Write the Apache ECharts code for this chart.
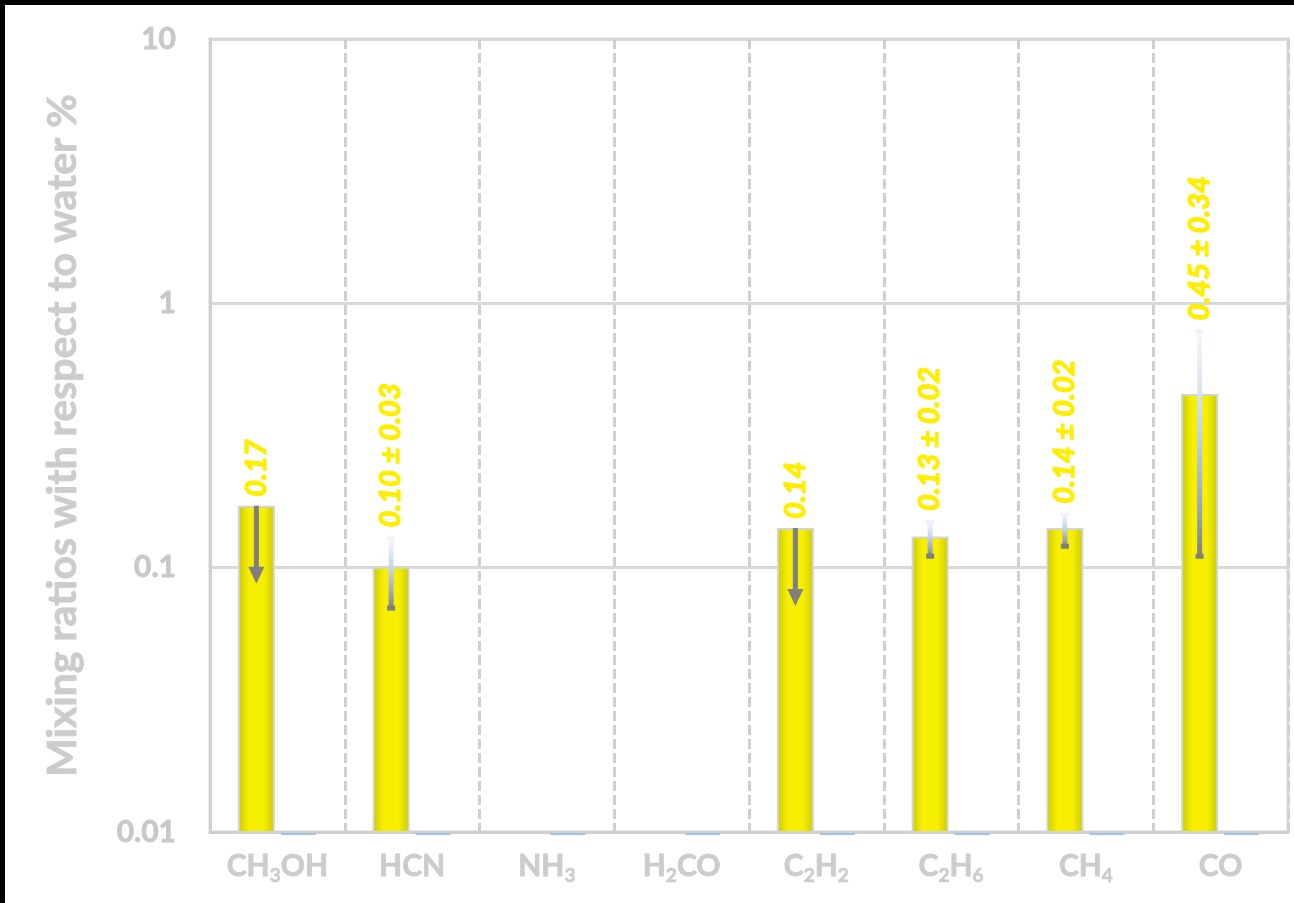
<!DOCTYPE html>
<html>
<head>
<meta charset="utf-8">
<title>Mixing ratios with respect to water</title>
<script src="https://cdn.jsdelivr.net/npm/echarts@6/dist/echarts.min.js"></script>
<style>
  html, body { margin: 0; padding: 0; background: #ffffff; }
  #chart { width: 1294px; height: 903px; }
</style>
</head>
<body>
<div id="chart"></div>
<script>
// Molecules on the category axis and their rich-text labels (subscripted counts)
const categories = ['CH3OH', 'HCN', 'NH3', 'H2CO', 'C2H2', 'C2H6', 'CH4', 'CO'];
const categoryLabels = [
  '{n|CH}{s|3}{n|OH}', '{n|HCN}', '{n|NH}{s|3}', '{n|H}{s|2}{n|CO}',
  '{n|C}{s|2}{n|H}{s|2}', '{n|C}{s|2}{n|H}{s|6}', '{n|CH}{s|4}', '{n|CO}'
];

// Abundances (% of water), 1-sigma uncertainties and upper-limit flags
const mixingRatios = [0.17, 0.10, null, null, 0.14, 0.13, 0.14, 0.45];
const uncertainties = [null, 0.03, null, null, null, 0.02, 0.02, 0.34];
const upperLimits = [true, false, false, false, true, false, false, false];

// Second (comparison) series: sits at the axis floor
const comparisonRatios = [0.01, 0.01, 0.01, 0.01, 0.01, 0.01, 0.01, 0.01];

// Log axis ticks
const yTickValues = [0.01, 0.1, 1, 10];
const yTickLabels = ['0.01', '0.1', '1', '10'];
const Y_MIN = yTickValues[0];
const Y_MAX = yTickValues[yTickValues.length - 1];

const FONT = 'Lato, "Open Sans", "DejaVu Sans", sans-serif';
const BAR_WIDTH = 35;
const BAR_GAP = 7;
// centre of each bar relative to the category centre
const BAR_OFFSET = (BAR_WIDTH + BAR_GAP) / 2;

const chart = echarts.init(document.getElementById('chart'), null, { renderer: 'canvas' });

const yellowFill = new echarts.graphic.LinearGradient(0, 0, 1, 0, [
  { offset: 0, color: '#caca00' },
  { offset: 0.3, color: '#f7ef00' },
  { offset: 0.7, color: '#f7ef00' },
  { offset: 1, color: '#caca00' }
]);
const errorFill = new echarts.graphic.LinearGradient(0, 0, 0, 1, [
  { offset: 0, color: '#f7f9fc' },
  { offset: 0.45, color: '#c4d4ea' },
  { offset: 0.8, color: '#9ba4b1' },
  { offset: 1, color: '#7f7f7f' }
]);

// Bars are drawn from the log-axis floor up to each value
function renderBars(params, api) {
  const i = api.value(0);
  const v = api.value(1);
  const top = api.coord([i, v]);
  const base = api.coord([i, Y_MIN]);
  const cx = top[0] - BAR_OFFSET;
  return {
    type: 'rect',
    shape: { x: cx - BAR_WIDTH / 2, y: top[1], width: BAR_WIDTH, height: base[1] - top[1] },
    style: { fill: yellowFill, stroke: '#d4d4d4', lineWidth: 2 }
  };
}

function renderComparison(params, api) {
  const i = api.value(0);
  const v = api.value(1);
  const p = api.coord([i, v]);
  const cx = p[0] + BAR_OFFSET;
  return {
    type: 'line',
    shape: { x1: cx - BAR_WIDTH / 2, y1: p[1] + 2, x2: cx + BAR_WIDTH / 2, y2: p[1] + 2 },
    style: { stroke: '#9dc3e6', lineWidth: 2 }
  };
}

// Error bars, upper-limit arrows and value labels
function renderOverlay(params, api) {
  const i = api.value(0);
  const v = api.value(1);
  const e = api.value(2);
  const up = api.value(3);
  const p = api.coord([i, v]);
  const x = p[0] - BAR_OFFSET;
  const children = [];
  let topY = p[1];

  if (e > 0) {
    const yHi = api.coord([i, v + e])[1];
    const yLo = api.coord([i, v - e])[1];
    children.push({
      type: 'rect',
      shape: { x: x - 2.5, y: yHi, width: 5, height: yLo - yHi },
      style: { fill: errorFill }
    });
    children.push({
      type: 'rect',
      shape: { x: x - 4, y: yHi - 1, width: 8, height: 4 },
      style: { fill: '#eef2f8' }
    });
    children.push({
      type: 'rect',
      shape: { x: x - 4, y: yLo - 3, width: 8, height: 5 },
      style: { fill: '#7f7f7f' }
    });
    topY = yHi;
  }

  if (up) {
    children.push({
      type: 'rect',
      shape: { x: x - 2.5, y: p[1] - 1, width: 5, height: 63 },
      style: { fill: '#7f7f7f' }
    });
    children.push({
      type: 'polygon',
      shape: { points: [[x - 8, p[1] + 60], [x + 8, p[1] + 60], [x, p[1] + 77]] },
      style: { fill: '#7f7f7f' }
    });
  }

  const text = v.toFixed(2) + (e > 0 ? ' \u00b1 ' + e.toFixed(2) : '');
  children.push({
    type: 'text',
    x: x,
    y: topY - 10,
    rotation: Math.PI / 2,
    style: {
      text: text,
      x: 0,
      y: 0,
      align: 'left',
      verticalAlign: 'middle',
      fill: '#ffee00',
      stroke: '#ffee00',
      lineWidth: 1.2,
      fontSize: 29,
      fontWeight: 'bold',
      fontStyle: 'italic',
      fontFamily: FONT
    }
  });

  return { type: 'group', children: children };
}

const barData = categories
  .map((c, i) => [i, mixingRatios[i]])
  .filter(d => d[1] != null);
const comparisonData = categories.map((c, i) => [i, comparisonRatios[i]]);
const overlayData = categories
  .map((c, i) => [i, mixingRatios[i], uncertainties[i] || 0, upperLimits[i] ? 1 : 0])
  .filter(d => d[1] != null);

const labelGray = '#cccccc';

const option = {
  backgroundColor: '#ffffff',
  animation: false,
  grid: {
    left: 210, right: 6, top: 39, bottom: 71,
    show: true, borderColor: '#d9d9d9', borderWidth: 3, backgroundColor: 'transparent'
  },
  xAxis: {
    type: 'category',
    data: categories,
    axisTick: { show: false },
    axisLine: { show: true, lineStyle: { color: '#cfcfcf', width: 3 } },
    splitLine: { show: true, interval: 0, lineStyle: { color: '#d0d0d0', width: 3, type: [10, 4] } },
    axisLabel: {
      interval: 0,
      margin: 19,
      formatter: (val, idx) => categoryLabels[idx],
      rich: {
        n: { fontSize: 30, fontWeight: 'bold', color: labelGray, textBorderColor: labelGray, textBorderWidth: 0.8, fontFamily: FONT, verticalAlign: 'bottom', padding: [0, 0, 4, 0] },
        s: { fontSize: 19, fontWeight: 'bold', color: labelGray, textBorderColor: labelGray, textBorderWidth: 0.6, fontFamily: FONT, verticalAlign: 'bottom' }
      }
    }
  },
  yAxis: {
    type: 'log',
    logBase: 10,
    min: Y_MIN,
    max: Y_MAX,
    name: 'Mixing ratios with respect to water %',
    nameLocation: 'middle',
    nameRotate: 90,
    nameGap: 127,
    nameTextStyle: { fontSize: 41, fontWeight: 'bold', color: labelGray, textBorderColor: labelGray, textBorderWidth: 0.8, fontFamily: FONT },
    axisTick: { show: false },
    minorTick: { show: false },
    axisLine: { show: true, lineStyle: { color: '#d0d0d0', width: 3 } },
    splitLine: { show: true, lineStyle: { color: '#d9d9d9', width: 3 } },
    axisLabel: {
      margin: 34,
      fontSize: 30,
      fontWeight: 'bold',
      color: '#c8c8c8',
      textBorderColor: '#c8c8c8',
      textBorderWidth: 0.8,
      fontFamily: FONT,
      formatter: v => {
        const k = yTickValues.findIndex(t => Math.abs(t - v) < t * 1e-6);
        return k >= 0 ? yTickLabels[k] : '';
      }
    }
  },
  series: [
    {
      name: 'Comparison',
      type: 'custom',
      renderItem: renderComparison,
      data: comparisonData,
      encode: { x: 0, y: 1 },
      z: 1
    },
    {
      name: 'Abundance',
      type: 'custom',
      renderItem: renderBars,
      data: barData,
      encode: { x: 0, y: 1 },
      z: 3
    },
    {
      name: 'Uncertainty',
      type: 'custom',
      renderItem: renderOverlay,
      data: overlayData,
      encode: { x: 0, y: 1 },
      z: 5
    }
  ],
  graphic: [
    { type: 'rect', shape: { x: 0, y: 0, width: 1294, height: 5 }, style: { fill: '#000000' }, z: 100 },
    { type: 'rect', shape: { x: 0, y: 0, width: 5, height: 903 }, style: { fill: '#000000' }, z: 100 }
  ]
};

chart.setOption(option);
</script>
</body>
</html>
